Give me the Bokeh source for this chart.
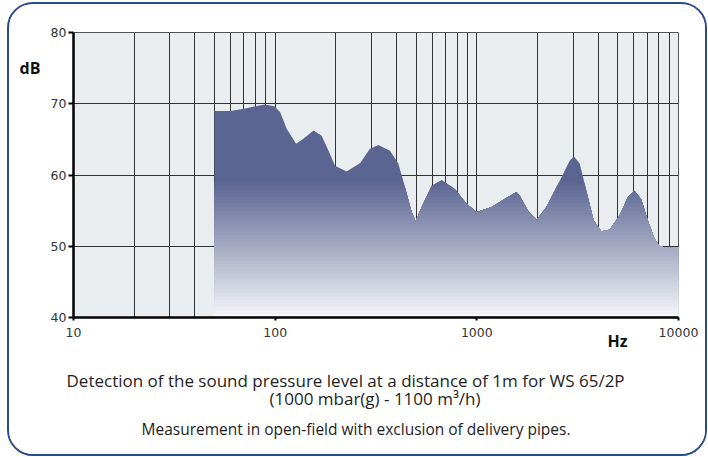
from bokeh.plotting import figure
from bokeh.layouts import row, column
from bokeh.models import FixedTicker, Title, Range1d
from bokeh.core.properties import value
from bokeh.embed import file_html
from bokeh.resources import INLINE
import numpy as np

# ---- data ----
freq = [50, 60, 70, 80, 89, 99, 106, 114, 127, 138, 155, 170, 184, 198, 226, 264,
        295, 325, 371, 408, 440, 475, 497, 533, 597, 669, 778, 889, 997, 1183, 1404,
        1573, 1633, 1795, 1977, 2215, 2576, 2886, 3031, 3236, 3491, 3796, 4142, 4552,
        5101, 5610, 6055, 6535, 7045, 7603, 8050, 8850, 9760, 10000]
db = [69.0, 69.0, 69.3, 69.65, 69.9, 69.65, 68.8, 66.5, 64.4, 65.1, 66.25, 65.5, 63.4,
      61.3, 60.5, 61.7, 63.7, 64.2, 63.4, 61.6, 58.3, 54.8, 53.5, 55.5, 58.5, 59.3,
      58.05, 55.96, 54.8, 55.5, 56.8, 57.6, 57.1, 55.0, 53.7, 55.5, 59.2, 62.0, 62.6,
      61.6, 57.8, 53.6, 52.1, 52.3, 54.3, 56.9, 57.8, 56.6, 53.6, 51.05, 50.0, 49.8,
      49.9, 49.9]

x_major = [10, 100, 1000, 10000]
x_minor = [20, 30, 40, 50, 60, 70, 80, 90,
           200, 300, 400, 500, 600, 700, 800, 900,
           2000, 3000, 4000, 5000, 6000, 7000, 8000, 9000]
y_ticks = [40, 50, 60, 70, 80]

y_title = "dB"
x_title = "Hz"
captions = ["Detection of the sound pressure level at a distance of 1m for WS 65/2P",
            "(1000 mbar(g) - 1100 m³/h)",
            "Measurement in open-field with exclusion of delivery pipes."]

HM = 350                     # height of the chart row
HC = 100                     # height of the caption strip
LW = 38                      # width of the strip holding the y title
W = 658
ML, MR, MT, MB = 23, 27, 28, 37

# ---- strip on the left with the "dB" title ----
pl = figure(width=LW, height=HM, x_range=(0, LW), y_range=(40, 80),
            output_backend="svg", toolbar_location=None,
            min_border_left=0, min_border_right=0, min_border_top=MT, min_border_bottom=MB)
pl.axis.visible = False
pl.grid.visible = False
pl.outline_line_color = None
pl.background_fill_color = "white"
pl.border_fill_color = "white"
pl.text(x=[10], y=[75], text=[y_title], text_font=value("Open Sans"), text_font_style="bold",
        text_font_size="16px", text_baseline="middle", text_align="left", text_color="#111111")

# ---- main chart ----
p = figure(width=W, height=HM, x_axis_type="log", x_range=(10, 10000), y_range=(40, 80),
           output_backend="svg", toolbar_location=None,
           min_border_left=ML, min_border_right=MR, min_border_top=MT, min_border_bottom=MB)
p.border_fill_color = "white"
p.background_fill_color = "#e9edf0"
p.outline_line_color = "#555555"
p.outline_line_width = 1


def clipped(xs, ys, level):
    lx = np.log10(xs)
    ox, oy = [], []
    for i in range(len(xs)):
        ox.append(xs[i])
        oy.append(min(ys[i], level))
        if i < len(xs) - 1:
            a, b = ys[i] - level, ys[i + 1] - level
            if a * b < 0:
                t = (level - ys[i]) / (ys[i + 1] - ys[i])
                ox.append(10 ** (lx[i] + t * (lx[i + 1] - lx[i])))
                oy.append(level)
    return ox, oy


top_c = np.array([0x5b, 0x65, 0x91])
bot_c = np.array([0xf6, 0xf6, 0xfa])


def colr(v):
    t = min(max((v - 40) / 19.0, 0), 1)
    c = bot_c + (top_c - bot_c) * t
    return "#%02x%02x%02x" % tuple(int(round(k)) for k in c)


p.varea(x=freq, y1=[40] * len(freq), y2=db, fill_color=colr(80), fill_alpha=1.0)
L = 59.0
while L > 40.01:
    bx, by = clipped(freq, db, L)
    p.varea(x=bx, y1=[40] * len(bx), y2=by, fill_color=colr(L - 0.25), fill_alpha=1.0)
    L -= 0.5

tk = FixedTicker(ticks=x_major, minor_ticks=x_minor)
p.xaxis.ticker = tk
p.xgrid.ticker = tk
p.yaxis.ticker = FixedTicker(ticks=y_ticks)
p.ygrid.ticker = FixedTicker(ticks=y_ticks)

p.xgrid.grid_line_color = "#333333"
p.xgrid.minor_grid_line_color = "#333333"
p.ygrid.grid_line_color = "#333333"

for ax in (p.xaxis, p.yaxis):
    ax.axis_line_color = "black"
    ax.axis_line_width = 2.5
    ax.major_tick_line_color = "black"
    ax.major_tick_line_width = 2
    ax.major_tick_in = 0
    ax.minor_tick_line_color = None
    ax.major_label_text_font = "DejaVu Sans"
    ax.major_label_text_font_size = "12.5px"
    ax.major_label_text_color = "#333333"
p.yaxis.major_tick_out = 5
p.xaxis.major_tick_out = 3
p.yaxis.major_label_standoff = 2
p.xaxis.major_label_standoff = 6
p.xaxis.major_label_overrides = {10: "10", 100: "100", 1000: "1000", 10000: "10000"}

p.add_layout(Title(text=x_title, align="left", offset=534, text_font="Open Sans",
                   text_font_size="16px", text_font_style="bold", text_color="#111111",
                   standoff=-23), "below")

# ---- caption strip (coordinates are pixels inside the strip, y downwards) ----
WC = LW + W
cap = figure(width=WC, height=HC, x_range=(0, WC), y_range=Range1d(HC, 0),
             output_backend="svg", toolbar_location=None,
             min_border_left=0, min_border_right=0, min_border_top=0, min_border_bottom=0)
cap.axis.visible = False
cap.grid.visible = False
cap.outline_line_color = None
cap.background_fill_color = "white"
cap.border_fill_color = "white"
cap.text(x=[57, 260], y=[26, 44], text=captions[:2], text_font=value("Open Sans"),
         text_font_size="17px", text_baseline="middle", text_align="left", text_color="#1e1e1e")
cap.text(x=[132], y=[74], text=captions[2:], text_font=value("Open Sans"),
         text_font_size="15.5px", text_baseline="middle", text_align="left", text_color="#1e1e1e")

layout = column(row(pl, p), cap)
layout.styles = {"margin-left": "7px", "margin-top": "2px",
                 "border": "2px solid #2b4a8b", "border-radius": "26px",
                 "overflow": "hidden"}

open("out.html", "w").write(file_html(layout, INLINE))
